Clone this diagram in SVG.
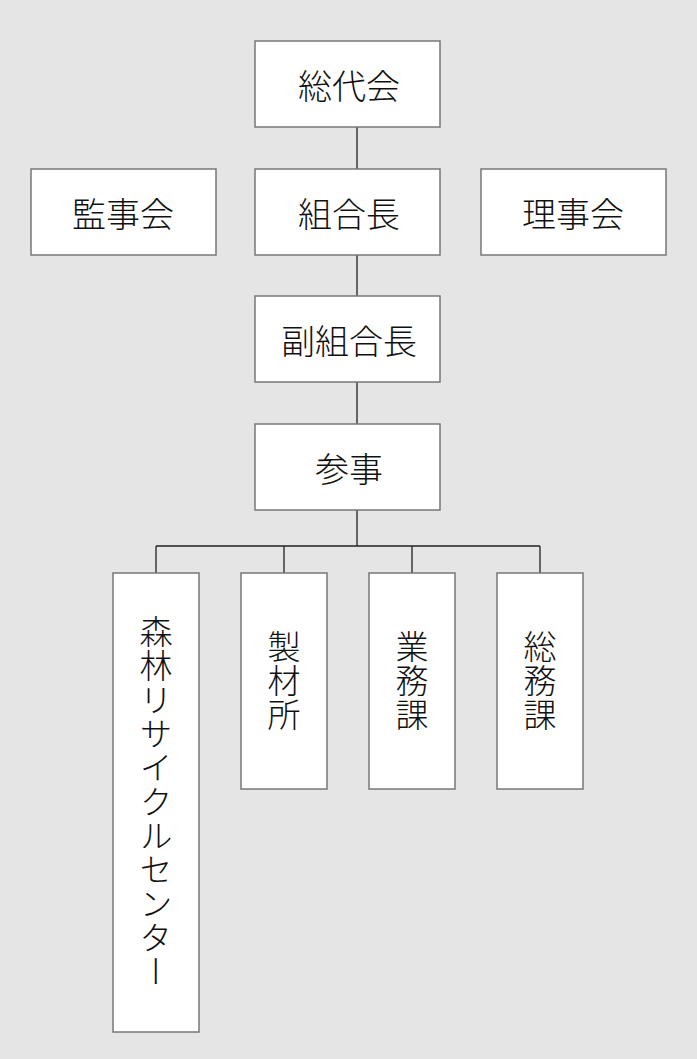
<svg xmlns="http://www.w3.org/2000/svg" width="697" height="1059" viewBox="0 0 697 1059">
<style>
.b{fill:#fff;stroke:#777;stroke-width:1.5}
.t{font-family:"Noto Sans CJK JP",sans-serif;font-weight:300;font-size:34px;fill:#111;text-anchor:middle;dominant-baseline:central}
.v{font-family:"Noto Sans CJK JP",sans-serif;font-weight:300;font-size:33px;fill:#111;text-anchor:middle;writing-mode:vertical-rl;letter-spacing:1px}
.c{stroke:#222;stroke-width:1.3;fill:none}
</style>
<rect width="697" height="1059" fill="#e5e5e5"/>
<g id="connectors">
<path class="c" d="M357 127V169M357 255V296M357 382V424M357 510V546M156 546H540M156 546V573M284 546V573M412 546V573M540 546V573"/>
</g>
<g id="n1"><rect class="b" x="255" y="41" width="185" height="86"/><text class="t" x="349" y="84">総代会</text></g>
<g id="n2"><rect class="b" x="31" y="169" width="185" height="86"/><text class="t" x="123" y="212">監事会</text></g>
<g id="n3"><rect class="b" x="255" y="169" width="185" height="86"/><text class="t" x="349" y="212">組合長</text></g>
<g id="n4"><rect class="b" x="481" y="169" width="185" height="86"/><text class="t" x="573" y="212">理事会</text></g>
<g id="n5"><rect class="b" x="255" y="296" width="185" height="86"/><text class="t" x="349" y="339">副組合長</text></g>
<g id="n6"><rect class="b" x="255" y="424" width="185" height="86"/><text class="t" x="349" y="467">参事</text></g>
<g id="n7"><rect class="b" x="113" y="573" width="86" height="459"/><text class="v" x="156" y="802">森林リサイクルセンター</text></g>
<g id="n8"><rect class="b" x="241" y="573" width="86" height="216"/><text class="v" x="284" y="681">製材所</text></g>
<g id="n9"><rect class="b" x="369" y="573" width="86" height="216"/><text class="v" x="412" y="681">業務課</text></g>
<g id="n10"><rect class="b" x="497" y="573" width="86" height="216"/><text class="v" x="540" y="681">総務課</text></g>
</svg>
